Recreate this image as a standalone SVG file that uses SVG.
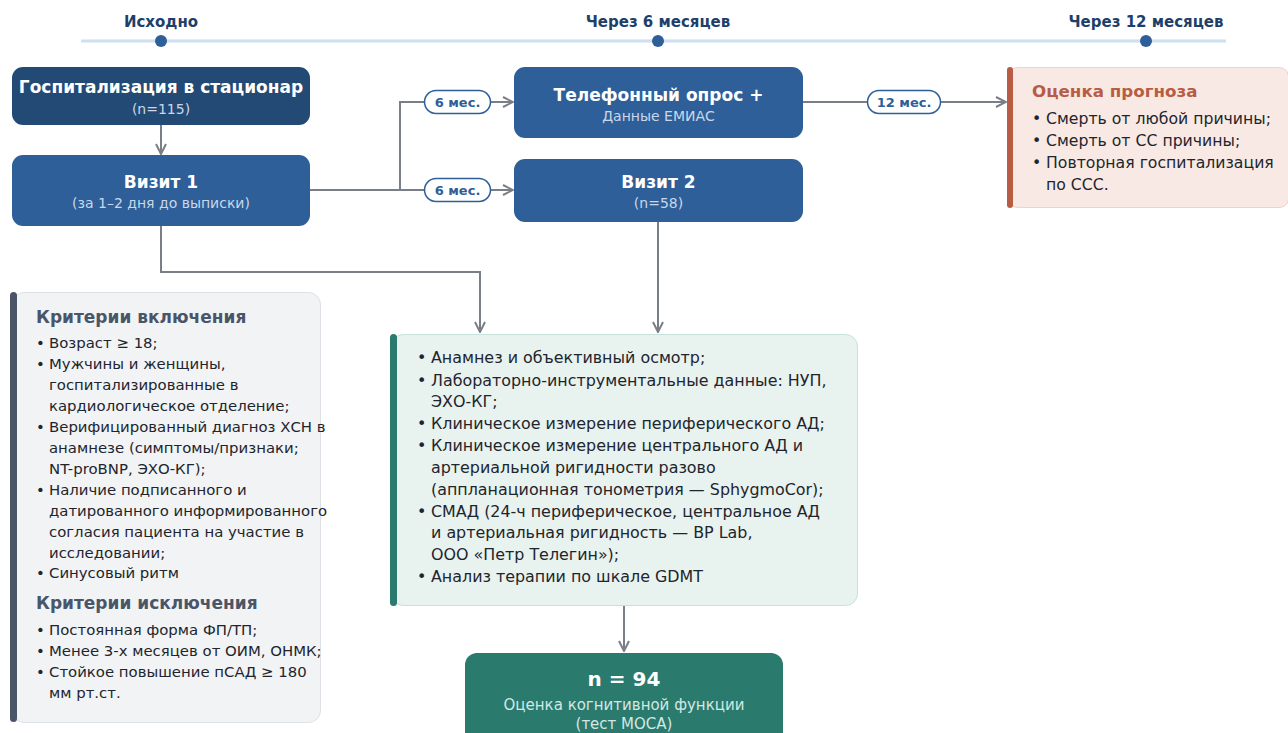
<svg xmlns="http://www.w3.org/2000/svg" width="1288" height="733" viewBox="0 0 1288 733">
<defs>
<marker id="arr" viewBox="0 0 12 12" refX="11" refY="6" markerWidth="12" markerHeight="12" markerUnits="userSpaceOnUse" orient="auto">
<path d="M1,1 L11,6 L1,11" fill="none" stroke="#7a7f87" stroke-width="2"/>
</marker>
<style>
text{font-family:"DejaVu Sans","Noto Sans",sans-serif}
.tl{font-size:15px;font-weight:bold;fill:#1f3f6b;text-anchor:middle}
.nt{font-size:17px;font-weight:bold;fill:#ffffff;text-anchor:middle}
.ns{font-size:14px;fill:#c9d7ea;text-anchor:middle}
.conn{fill:none;stroke:#7a7f87;stroke-width:2}
.pill{fill:#ffffff;stroke:#2e5f98;stroke-width:1.5}
.pt{font-size:13px;font-weight:bold;fill:#2e5f98;text-anchor:middle}
.body{font-size:15.9px;fill:#1e252d}
.pb{font-size:15.7px;fill:#1e252d}
.cb{font-size:14.9px;fill:#1e252d}
.sh{font-size:17px;font-weight:bold;fill:#4a5568}
</style>
</defs>
<rect width="1288" height="733" fill="#ffffff"/>
<g id="timeline">
<line x1="81" y1="41" x2="1226" y2="41" stroke="#cddff0" stroke-width="3"/>
<circle cx="161" cy="41" r="6" fill="#2e5f98"/>
<circle cx="658" cy="41" r="6" fill="#2e5f98"/>
<circle cx="1146" cy="41" r="6" fill="#2e5f98"/>
<text class="tl" x="161" y="27">Исходно</text>
<text class="tl" x="658" y="27">Через 6 месяцев</text>
<text class="tl" x="1146" y="27">Через 12 месяцев</text>
</g>
<g id="connectors">
<path class="conn" d="M161,125 V154" marker-end="url(#arr)"/>
<path class="conn" d="M310,190 H400"/>
<path class="conn" d="M400,190 V102 H513" marker-end="url(#arr)"/>
<path class="conn" d="M400,190 H513" marker-end="url(#arr)"/>
<path class="conn" d="M803,102 H1006" marker-end="url(#arr)"/>
<path class="conn" d="M161,226 V272 H480 V332" marker-end="url(#arr)"/>
<path class="conn" d="M658,222 V332" marker-end="url(#arr)"/>
<path class="conn" d="M624,606 V651" marker-end="url(#arr)"/>
<rect class="pill" x="424.5" y="90.5" width="66" height="23" rx="11.5"/>
<text class="pt" x="457.5" y="107">6 мес.</text>
<rect class="pill" x="424.5" y="178.5" width="66" height="23" rx="11.5"/>
<text class="pt" x="457.5" y="195">6 мес.</text>
<rect class="pill" x="867.5" y="90.5" width="73" height="23" rx="11.5"/>
<text class="pt" x="904" y="107">12 мес.</text>
</g>
<g id="hosp">
<rect x="12" y="67" width="298" height="58" rx="11" fill="#234a75"/>
<text class="nt" x="161" y="93">Госпитализация в стационар</text>
<text class="ns" x="161" y="114">(n=115)</text>
</g>
<g id="visit1">
<rect x="12" y="155" width="298" height="71" rx="11" fill="#2e5f98"/>
<text class="nt" x="161" y="188">Визит 1</text>
<text class="ns" x="161" y="208">(за 1–2 дня до выписки)</text>
</g>
<g id="phone">
<rect x="514" y="67" width="289" height="71" rx="11" fill="#2e5f98"/>
<text class="nt" x="658.5" y="101">Телефонный опрос +</text>
<text class="ns" x="658.5" y="121">Данные ЕМИАС</text>
</g>
<g id="visit2">
<rect x="514" y="159" width="289" height="63" rx="11" fill="#2e5f98"/>
<text class="nt" x="658.5" y="188">Визит 2</text>
<text class="ns" x="658.5" y="208">(n=58)</text>
</g>
<g id="prognosis">
<rect x="1008.5" y="67.5" width="280" height="140" rx="9" fill="#f8e9e4" stroke="#ecd3cb"/>
<rect x="1007" y="67" width="6" height="141" rx="3" fill="#b85c44"/>
<text x="1032" y="97" font-size="16.7" font-weight="bold" fill="#b85c44">Оценка прогноза</text>
<g class="pb">
<text x="1032" y="124">•</text><text x="1046" y="124">Смерть от любой причины;</text>
<text x="1032" y="146">•</text><text x="1046" y="146">Смерть от СС причины;</text>
<text x="1032" y="168">•</text><text x="1046" y="168">Повторная госпитализация</text>
<text x="1046" y="190">по ССС.</text>
</g>
</g>
<g id="criteria">
<rect x="12.5" y="292.5" width="308" height="430" rx="12" fill="#f1f3f5" stroke="#dde1e6"/>
<rect x="10" y="292" width="7" height="430" rx="3.5" fill="#4a5568"/>
<text class="sh" x="36" y="323">Критерии включения</text>
<g class="cb">
<text x="36" y="348">•</text><text x="49" y="348">Возраст ≥ 18;</text>
<text x="36" y="369">•</text><text x="49" y="369">Мужчины и женщины,</text>
<text x="49" y="390">госпитализированные в</text>
<text x="49" y="411">кардиологическое отделение;</text>
<text x="36" y="432">•</text><text x="49" y="432">Верифицированный диагноз ХСН в</text>
<text x="49" y="453">анамнезе (симптомы/признаки;</text>
<text x="49" y="474">NT-proBNP, ЭХО-КГ);</text>
<text x="36" y="495">•</text><text x="49" y="495">Наличие подписанного и</text>
<text x="49" y="516">датированного информированного</text>
<text x="49" y="537">согласия пациента на участие в</text>
<text x="49" y="558">исследовании;</text>
<text x="36" y="578">•</text><text x="49" y="578">Синусовый ритм</text>
</g>
<text class="sh" x="36" y="609">Критерии исключения</text>
<g class="cb">
<text x="36" y="635">•</text><text x="49" y="635">Постоянная форма ФП/ТП;</text>
<text x="36" y="656">•</text><text x="49" y="656">Менее 3-х месяцев от ОИМ, ОНМК;</text>
<text x="36" y="677">•</text><text x="49" y="677">Стойкое повышение пСАД ≥ 180</text>
<text x="49" y="698">мм рт.ст.</text>
</g>
</g>
<g id="exam">
<rect x="391.5" y="334.5" width="466" height="271" rx="12" fill="#e8f2ef" stroke="#c6e2da"/>
<rect x="390" y="334" width="7" height="272" rx="3.5" fill="#2a7a6e"/>
<g class="body">
<text x="417" y="363">•</text><text x="431" y="363">Анамнез и объективный осмотр;</text>
<text x="417" y="386">•</text><text x="431" y="386">Лабораторно-инструментальные данные: НУП,</text>
<text x="431" y="407">ЭХО-КГ;</text>
<text x="417" y="429">•</text><text x="431" y="429">Клиническое измерение периферического АД;</text>
<text x="417" y="451">•</text><text x="431" y="451">Клиническое измерение центрального АД и</text>
<text x="431" y="473">артериальной ригидности разово</text>
<text x="431" y="495">(аппланационная тонометрия — SphygmoCor);</text>
<text x="417" y="517">•</text><text x="431" y="517">СМАД (24-ч периферическое, центральное АД</text>
<text x="431" y="538">и артериальная ригидность — BP Lab,</text>
<text x="431" y="560">ООО «Петр Телегин»);</text>
<text x="417" y="582">•</text><text x="431" y="582">Анализ терапии по шкале GDMT</text>
</g>
</g>
<g id="result">
<rect x="465" y="653" width="318" height="95" rx="12" fill="#2a7a6e"/>
<text x="624" y="686" font-size="20" font-weight="bold" fill="#ffffff" text-anchor="middle">n = 94</text>
<text x="624" y="710" font-size="15" fill="#d2e8e3" text-anchor="middle">Оценка когнитивной функции</text>
<text x="624" y="729" font-size="15" fill="#d2e8e3" text-anchor="middle">(тест МОСА)</text>
</g>
</svg>
